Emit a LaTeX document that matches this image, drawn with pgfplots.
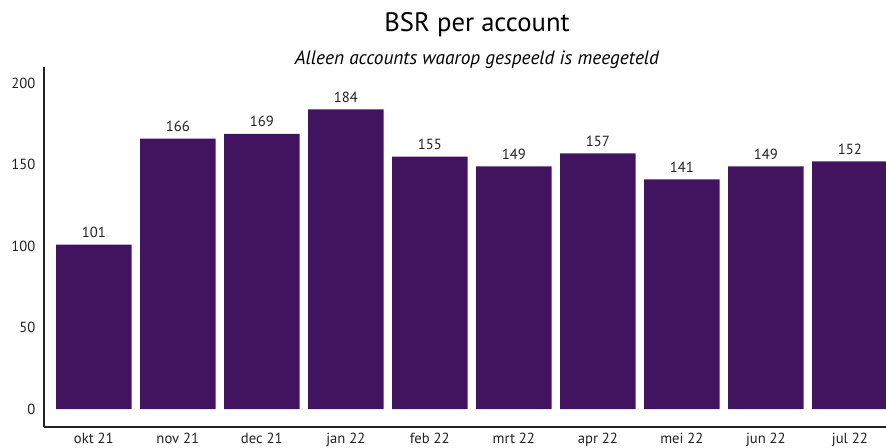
\documentclass[border=0pt]{standalone}
\usepackage{fontspec}
\setmainfont{PT Sans}
\usepackage{pgfplots}
\pgfplotsset{compat=1.18}
\definecolor{Violet}{HTML}{42145F}
\definecolor{Ink}{HTML}{222222}

\begin{document}
\begin{tikzpicture}
\path[use as bounding box] (0,0) rectangle (664.5pt,335.25pt);
\begin{axis}[at={(33pt,15pt)},anchor=south west,scale only axis,
width=631.5pt,height=270pt,ymin=-11,ymax=210,xmin=-0.593,xmax=9.43,
axis x line=bottom,axis y line=left,axis line style={-,draw=Ink,line width=0.9pt},
ytick={0,50,100,150,200},xtick={0,...,9},
xticklabels={okt 21,nov 21,dec 21,jan 22,feb 22,mrt 22,apr 22,mei 22,jun 22,jul 22},
major tick length=0pt,tick label style={font=\fontsize{11}{13}\selectfont,text=Ink},
/pgf/number format/assume math mode=true,
yticklabel style={xshift=-3pt},xticklabel style={yshift=-1pt},
ybar,bar width=0.9,bar shift=0pt,
nodes near coords,every node near coord/.append style={font=\fontsize{11}{13}\selectfont,text=Ink,yshift=1.5pt}]
\addplot[fill=Violet,draw=none] coordinates
{(0,101)(1,166)(2,169)(3,184)(4,155)(5,149)(6,157)(7,141)(8,149)(9,152)};
\end{axis}
\node[text=black,font=\fontsize{20}{24}\selectfont] at (357.75pt,317pt) {BSR per account};
\node[text=black,font=\fontsize{14.5}{17}\selectfont\itshape] at (357.75pt,290.5pt) {Alleen accounts waarop gespeeld is meegeteld};
\end{tikzpicture}
\end{document}
